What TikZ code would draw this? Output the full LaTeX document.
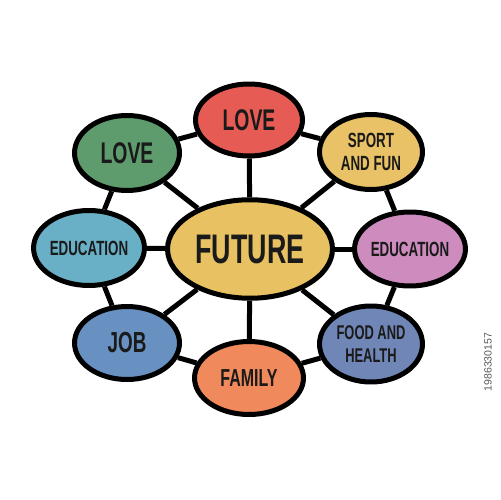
\documentclass[tikz,border=0pt]{standalone}
\usepackage{fontspec}
\newfontfamily\cfont{Liberation Sans}[FakeStretch=0.65]
\newfontfamily\sfont{Liberation Sans}
\usetikzlibrary{shapes.geometric,backgrounds}
\definecolor{cred}{HTML}{E65C55}
\definecolor{cgreen}{HTML}{5E9C6E}
\definecolor{csport}{HTML}{E9C166}
\definecolor{ccenter}{HTML}{E8C262}
\definecolor{cteal}{HTML}{69AFC6}
\definecolor{cpink}{HTML}{CD8BBE}
\definecolor{cjob}{HTML}{6890C0}
\definecolor{corange}{HTML}{F08A5C}
\definecolor{cfood}{HTML}{6F86B6}
\definecolor{ctext}{HTML}{1A1A1A}
\begin{document}
\begin{tikzpicture}[x=0.02cm,y=-0.02cm,
  bub/.style={ellipse,draw=black,line width=0.1cm,inner sep=0pt,text=ctext,align=center},
  link/.style={draw=black,line width=0.1cm},
  fs/.style={font=\cfont\bfseries\fontsize{#1}{13.5}\selectfont}]
\useasboundingbox (0,0) rectangle (500,500);
\node[bub,fill=ccenter,minimum width=3.3cm,minimum height=1.97cm,fs=23.5] (fut) at (250,249) {FUTURE};
\node[bub,fill=cred,minimum width=2.14cm,minimum height=1.44cm,fs=17] (lovet) at (249,120) {LOVE};
\node[bub,fill=cgreen,minimum width=2.1cm,minimum height=1.5cm,fs=17] (lovel) at (127,153) {LOVE};
\node[bub,fill=csport,minimum width=2.06cm,minimum height=1.5cm,fs=11.7] (sport) at (371,152) {SPORT\\AND FUN};
\node[bub,fill=cteal,minimum width=2.14cm,minimum height=1.5cm,fs=11.7] (edul) at (89,248) {EDUCATION};
\node[bub,fill=cpink,minimum width=2.02cm,minimum height=1.48cm,fs=11.7] (edur) at (410,249) {EDUCATION};
\node[bub,fill=cjob,minimum width=2.1cm,minimum height=1.46cm,fs=16.5] (job) at (127,343) {JOB};
\node[bub,fill=corange,minimum width=2.18cm,minimum height=1.46cm,fs=14] (fam) at (249,378) {FAMILY};
\node[bub,fill=cfood,minimum width=2.06cm,minimum height=1.52cm,fs=11.3] (food) at (371,344) {FOOD AND\\HEALTH};
\node[rotate=90,text=black!65,font=\sfont\fontsize{6}{7}\selectfont,inner sep=0pt] (sid) at (488,362) {1986330157};
\begin{scope}[on background layer]
\fill[white] (0,0) rectangle (500,500);
\foreach \n in {lovet,lovel,sport,edul,edur,job,fam,food}{\draw[link] (fut) -- (\n);}
\draw[link] (lovet) -- (lovel);
\draw[link] (lovet) -- (sport);
\draw[link] (lovel) -- (edul);
\draw[link] (sport) -- (edur);
\draw[link] (edul) -- (job);
\draw[link] (edur) -- (food);
\draw[link] (job) -- (fam);
\draw[link] (food) -- (fam);
\end{scope}
\end{tikzpicture}
\end{document}
